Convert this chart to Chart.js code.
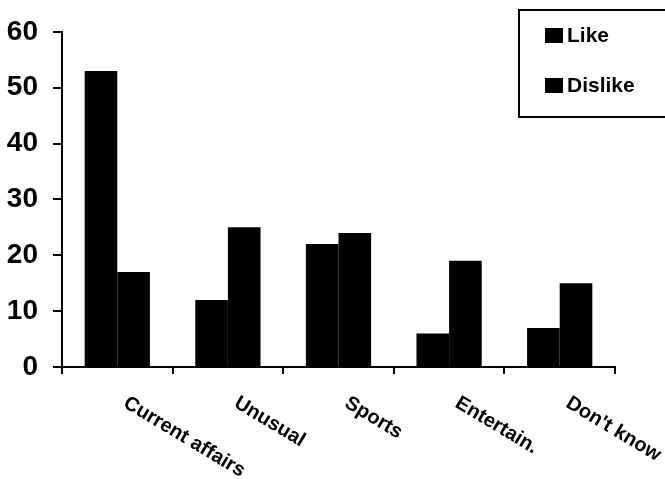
<!DOCTYPE html>
<html>
<head>
<meta charset="utf-8">
<script src="https://cdn.jsdelivr.net/npm/chart.js@4/dist/chart.umd.min.js"></script>
<style>
  html, body { margin: 0; padding: 0; background: #fff; }
  canvas { display: block; }
</style>
</head>
<body>
<canvas id="c" width="665" height="479"></canvas>
<script>
// Survey responses by programme type
const categories = ['Current affairs', 'Unusual', 'Sports', 'Entertain.', "Don't know"];
const likeValues = [53, 12, 22, 6, 7];
const dislikeValues = [17, 25, 24, 19, 15];
const yTicks = [0, 10, 20, 30, 40, 50, 60];

const FONT = '"Liberation Sans", Arial, sans-serif';

// Axis decorations: value-axis tick marks, slanted category labels and a boxed legend
const axisDecor = {
  id: 'axisDecor',
  afterDraw(chart) {
    const { ctx } = chart;
    const xs = chart.scales.x;
    const ys = chart.scales.y;
    const axisX = xs.left;

    ctx.save();
    // tick marks left of the value axis
    ctx.strokeStyle = '#000';
    ctx.lineWidth = 2;
    ctx.beginPath();
    yTicks.forEach(v => {
      const y = Math.round(ys.getPixelForValue(v));
      ctx.moveTo(axisX - 9, y);
      ctx.lineTo(axisX + 1, y);
    });
    ctx.stroke();

    // category labels slanting down to the right
    ctx.fillStyle = '#000';
    ctx.font = 'bold 20px ' + FONT;
    ctx.textAlign = 'left';
    ctx.textBaseline = 'top';
    categories.forEach((label, i) => {
      const x = xs.getPixelForValue(i) + 13;
      const y = xs.top + 26;
      ctx.save();
      ctx.translate(x, y);
      ctx.rotate(31 * Math.PI / 180);
      ctx.fillText(label, 0, 0);
      ctx.restore();
    });

    // boxed legend
    ctx.strokeRect(519, 10, 160, 107);
    ctx.font = 'bold 21px ' + FONT;
    ctx.textBaseline = 'alphabetic';
    chart.data.datasets.forEach((ds, i) => {
      const baseY = 42 + i * 50;
      ctx.fillStyle = ds.backgroundColor;
      ctx.fillRect(545, baseY - 14, 18, 15);
      ctx.fillStyle = '#000';
      ctx.fillText(ds.label, 567, baseY);
    });
    ctx.restore();
  }
};

new Chart(document.getElementById('c'), {
  type: 'bar',
  data: {
    labels: categories,
    datasets: [
      { label: 'Like', data: likeValues, backgroundColor: '#000', borderWidth: 0 },
      { label: 'Dislike', data: dislikeValues, backgroundColor: '#000', borderWidth: 0 }
    ]
  },
  options: {
    responsive: false,
    animation: false,
    layout: { padding: { top: 31, right: 50, bottom: 0, left: 0 } },
    datasets: { bar: { barPercentage: 1, categoryPercentage: 0.59 } },
    plugins: { legend: { display: false }, tooltip: { enabled: false } },
    scales: {
      x: {
        grid: { offset: true, drawOnChartArea: false, drawTicks: true, tickLength: 7, color: '#000', lineWidth: 2 },
        border: { display: true, color: '#000', width: 2 },
        ticks: { display: false },
        afterFit(scale) { scale.height = 112; }
      },
      y: {
        min: 0,
        max: 60,
        afterBuildTicks(scale) { scale.ticks = yTicks.map(v => ({ value: v })); },
        grid: { drawOnChartArea: false, drawTicks: true, tickLength: 9, color: '#000', lineWidth: 2 },
        border: { display: true, color: '#000', width: 2 },
        ticks: {
          color: '#000',
          padding: 15,
          font: { family: FONT, size: 28, weight: 'bold' }
        },
        afterFit(scale) { scale.width = 62; }
      }
    }
  },
  plugins: [axisDecor]
});
</script>
</body>
</html>
